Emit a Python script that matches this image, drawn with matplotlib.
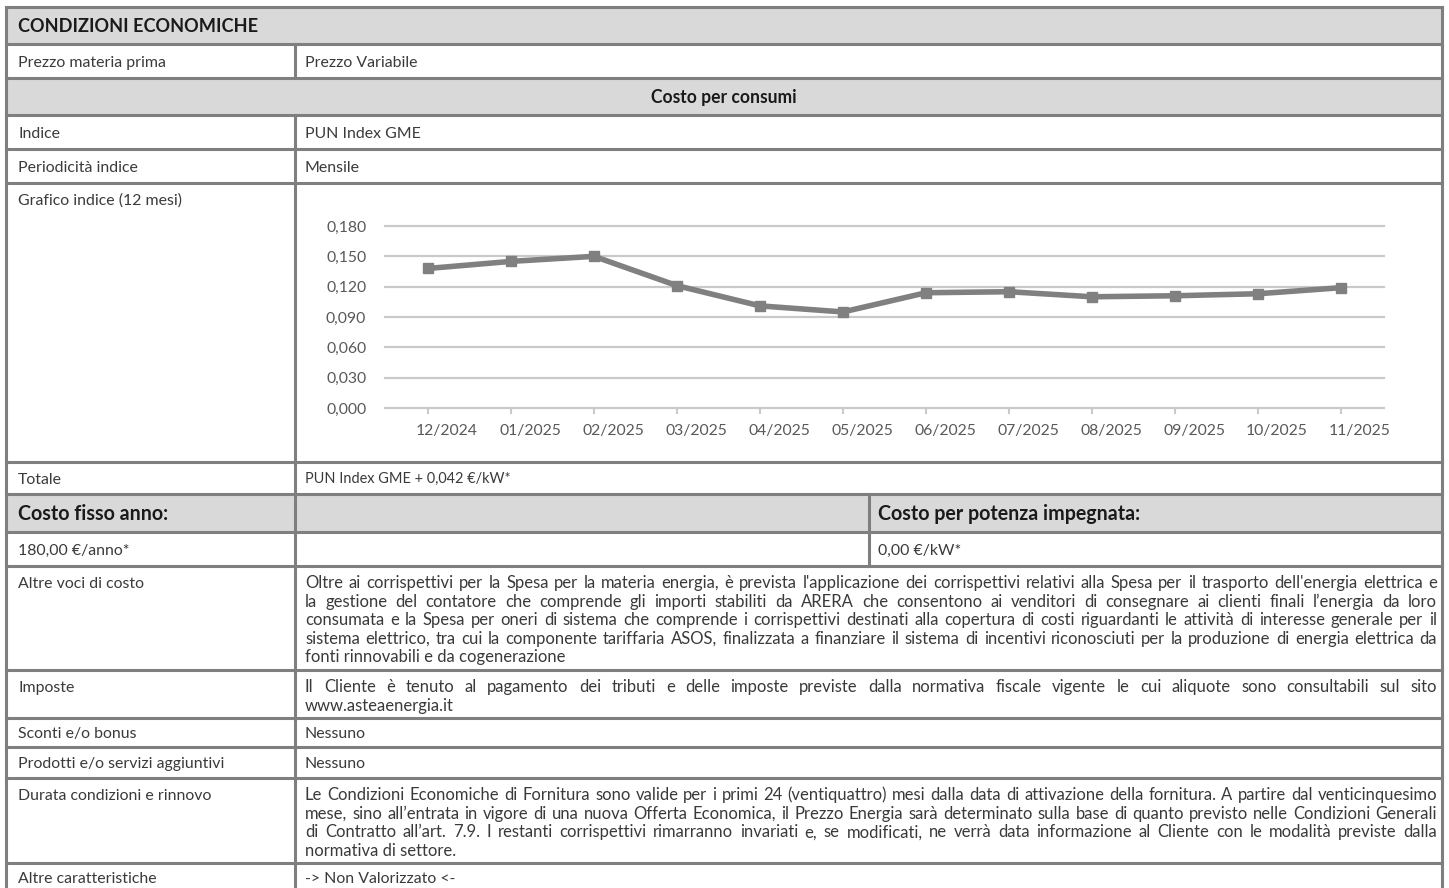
import matplotlib
matplotlib.use('Agg')
import matplotlib.pyplot as plt
from matplotlib.patches import Rectangle
from matplotlib.lines import Line2D
from matplotlib.transforms import ScaledTranslation
from matplotlib import font_manager

# chart data
months = ['12/2024', '01/2025', '02/2025', '03/2025', '04/2025', '05/2025',
          '06/2025', '07/2025', '08/2025', '09/2025', '10/2025', '11/2025']
pun_index = [0.138, 0.145, 0.150, 0.121, 0.101, 0.095,
             0.114, 0.115, 0.110, 0.111, 0.113, 0.119]
y_ticks = [0.000, 0.030, 0.060, 0.090, 0.120, 0.150, 0.180]

# table texts
title = 'CONDIZIONI ECONOMICHE'
section = 'Costo per consumi'
fixed_head = ['Costo fisso anno:', '', 'Costo per potenza impegnata:']
fixed_vals = ['180,00 €/anno*', '', '0,00 €/kW*']
labels = ['Prezzo materia prima', 'Indice', 'Periodicità indice',
          'Grafico indice (12 mesi)', 'Totale', 'Altre voci di costo',
          'Imposte', 'Sconti e/o bonus', 'Prodotti e/o servizi aggiuntivi',
          'Durata condizioni e rinnovo', 'Altre caratteristiche']
values = [
    ['Prezzo Variabile'],
    ['PUN Index GME'],
    ['Mensile'],
    [],
    ['PUN Index GME + 0,042 €/kW*'],
    ["Oltre ai corrispettivi per la Spesa per la materia energia, è prevista l'applicazione dei corrispettivi relativi alla Spesa per il trasporto dell'energia elettrica e",
     'la gestione del contatore che comprende gli importi stabiliti da ARERA che consentono ai venditori di consegnare ai clienti finali l’energia da loro',
     'consumata e la Spesa per oneri di sistema che comprende i corrispettivi destinati alla copertura di costi riguardanti le attività di interesse generale per il',
     'sistema elettrico, tra cui la componente tariffaria ASOS, finalizzata a finanziare il sistema di incentivi riconosciuti per la produzione di energia elettrica da',
     'fonti rinnovabili e da cogenerazione'],
    ['Il Cliente è tenuto al pagamento dei tributi e delle imposte previste dalla normativa fiscale vigente le cui aliquote sono consultabili sul sito',
     'www.asteaenergia.it'],
    ['Nessuno'],
    ['Nessuno'],
    ['Le Condizioni Economiche di Fornitura sono valide per i primi 24 (ventiquattro) mesi dalla data di attivazione della fornitura. A partire dal venticinquesimo',
     'mese, sino all’entrata in vigore di una nuova Offerta Economica, il Prezzo Energia sarà determinato sulla base di quanto previsto nelle Condizioni Generali',
     'di Contratto all’art. 7.9. I restanti corrispettivi rimarranno invariati e, se modificati, ne verrà data informazione al Cliente con le modalità previste dalla',
     'normativa di settore.'],
    ['-> Non Valorizzato <-'],
]

W, H = 1449, 888
# row edges in pixels
edges = [7, 44, 78, 115, 149, 183, 462, 494, 532, 566, 670, 718, 747, 778, 863, 905]
label_rows = [1, 3, 4, 5, 6, 9, 10, 11, 12, 13, 14]
X0, XS, X2, X1 = 6, 295, 869, 1442
TX0, TX1 = 305, 1437
LINE = 18.6
BORDER = '#7f7f7f'
FILL = '#d9d9d9'
TXT = '#3a3a3a'

names = {f.name for f in font_manager.fontManager.ttflist}
FONT = 'Lato' if 'Lato' in names else 'DejaVu Sans'
plt.rcParams['font.family'] = [FONT, 'DejaVu Sans']

fig = plt.figure(figsize=(W / 100, H / 100), dpi=100)
ax = fig.add_axes([0, 0, 1, 1])
ax.set_xlim(0, W)
ax.set_ylim(H, 0)
ax.axis('off')
renderer = fig.canvas.get_renderer()


def width_of(s, **kw):
    t = ax.text(0, 0, s, **kw)
    w = t.get_window_extent(renderer).width
    t.remove()
    return w


def fit(s, target, weight='normal'):
    return 10 * target / width_of(s, fontsize=10, fontweight=weight)


body = fit('Prodotti e/o servizi aggiuntivi', 206)
head = fit(title, 238, 'bold')
sect = head * 0.97
big = fit('Costo fisso anno:', 150, 'bold')
tick = fit('12/2024', 62)
total = fit(values[4][0], 205)

# paragraph size: widest justified line should nearly fill the cell
long_lines = [l for v in values if len(v) > 1 for l in v[:-1]]
widest = max(width_of(l, fontsize=body) for l in long_lines)
para = min(body * (TX1 - TX0 - 12) / widest, body * 1.1)


def baseline(center, size):
    return center + 0.36 * size * 100 / 72


def put(x, center, s, size, weight='normal', color=TXT, ha='left'):
    ax.text(x, baseline(center, size), s, fontsize=size, fontweight=weight,
            color=color, ha=ha, va='baseline')


def paragraph(top, lines):
    for k, line in enumerate(lines):
        c = top + 16 + k * LINE
        words = line.split(' ')
        if k == len(lines) - 1:
            put(TX0, c, line, para)
            continue
        ws = [width_of(w, fontsize=para) for w in words]
        gap = (TX1 - TX0 - sum(ws)) / (len(words) - 1)
        x = TX0
        for w, wd in zip(words, ws):
            put(x, c, w, para)
            x += wd + gap


# grey rows
for i in (0, 2, 7):
    ax.add_patch(Rectangle((X0, edges[i]), X1 - X0, edges[i + 1] - edges[i],
                           facecolor=FILL, edgecolor='none'))

# borders
lw = 2.2
for y in edges[:-1]:
    ax.add_line(Line2D([X0, X1], [y, y], color=BORDER, lw=lw))
for x in (X0, X1):
    ax.add_line(Line2D([x, x], [edges[0], H + 5], color=BORDER, lw=lw))
for a, b in [(1, 2), (3, 15)]:
    ax.add_line(Line2D([XS, XS], [edges[a], edges[b]], color=BORDER, lw=lw))
ax.add_line(Line2D([X2, X2], [edges[7], edges[9]], color=BORDER, lw=lw))

# texts
put(18, (edges[0] + edges[1]) / 2, title, head, 'bold', '#1a1a1a')
put((X0 + X1) / 2, (edges[2] + edges[3]) / 2, section, sect, 'bold', '#1a1a1a', ha='center')
put(18, (edges[7] + edges[8]) / 2, fixed_head[0], big, 'bold', '#1a1a1a')
put(878, (edges[7] + edges[8]) / 2, fixed_head[2], big, 'bold', '#1a1a1a')
put(18, (edges[8] + edges[9]) / 2, fixed_vals[0], body)
put(878, (edges[8] + edges[9]) / 2, fixed_vals[2], body)

for lab, vals, r in zip(labels, values, label_rows):
    top, bot = edges[r], edges[r + 1]
    if r == 14:
        c = top + 14
    elif len(vals) <= 1 and bot - top < 60:
        c = (top + bot) / 2
    else:
        c = top + 16
    put(18, c, lab, body)
    if len(vals) > 1:
        paragraph(top, vals)
    elif vals:
        put(TX0, c, vals[0], total if r == 6 else body)

# chart
gl, gr, gt, gb = 385, 1384, 226, 408
cx = fig.add_axes([gl / W, 1 - gb / H, (gr - gl) / W, (gb - gt) / H])
cx.patch.set_alpha(0)
step = (1341 - 428) / 11
cx.set_xlim(-(428 - gl) / step, 11 + (gr - 1341) / step)
cx.set_ylim(0, 0.18)
cx.plot(range(len(months)), pun_index, color='#808080', lw=4.0,
        marker='s', ms=7, zorder=3)
cx.set_yticks(y_ticks, labels=[f'{v:.3f}'.replace('.', ',') for v in y_ticks])
cx.set_xticks(range(len(months)), labels=months)
cx.grid(axis='y', color='#c9c9c9', lw=1.6)
for g in cx.get_ygridlines():
    g.set_clip_on(False)
cx.set_axisbelow(True)
for s in cx.spines.values():
    s.set_visible(False)
cx.tick_params(axis='y', length=0, pad=13.5, labelsize=tick, labelcolor='#595959')
cx.tick_params(axis='x', length=4.3, width=1.5, color='#c9c9c9', pad=7,
               labelsize=tick, labelcolor='#595959')
shift = ScaledTranslation(0.19, 0, fig.dpi_scale_trans)
for t in cx.get_xticklabels():
    t.set_transform(t.get_transform() + shift)

fig.savefig('out.png', dpi=100, facecolor='white')
